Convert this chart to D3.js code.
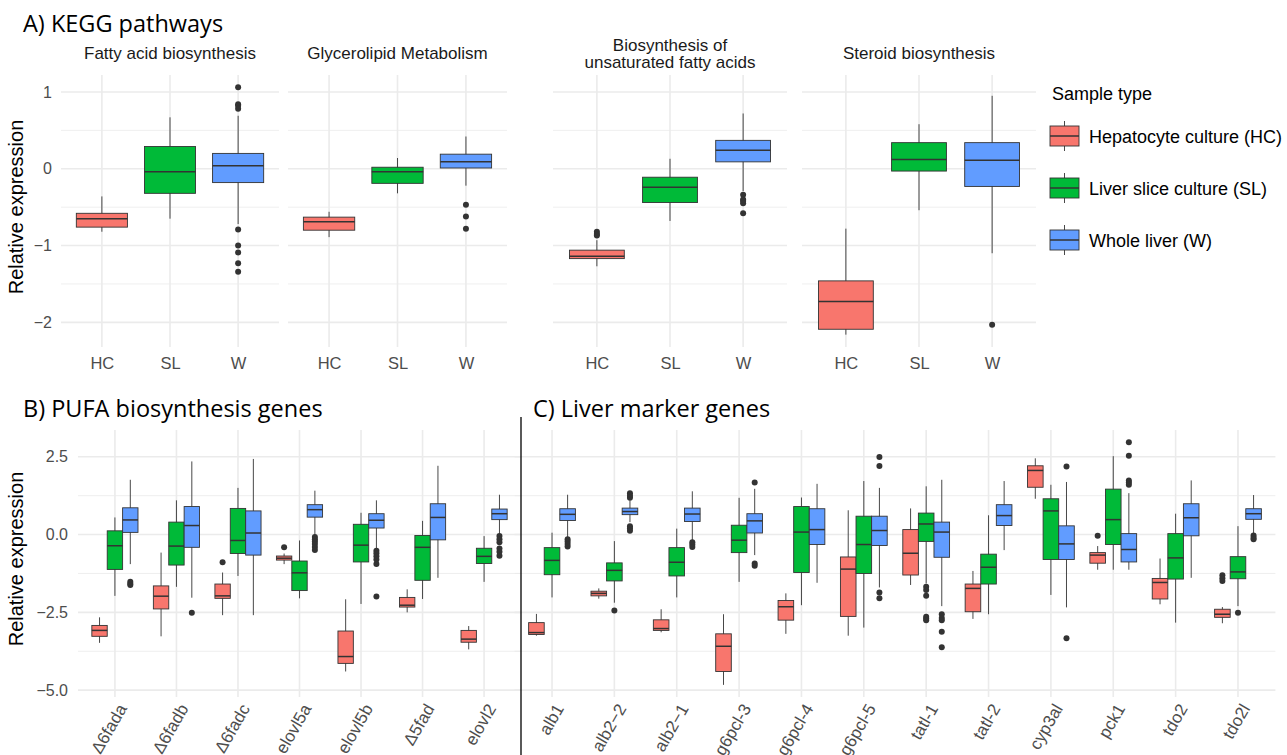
<!DOCTYPE html>
<html lang="en">
<head>
<meta charset="utf-8">
<title>Relative expression by sample type</title>
<script src="https://cdn.jsdelivr.net/npm/d3@7"></script>
<style>
  body { margin: 0; background: white; }
  svg text { font-family: "Liberation Sans", Arial, sans-serif; }
  .title { font-family: "Open Sans", sans-serif !important; font-size: 23.5px; fill: #000; }
</style>
</head>
<body>
<script>
// sample types
var groups = ["HC", "SL", "W"];
var groupLabels = ["Hepatocyte culture (HC)", "Liver slice culture (SL)", "Whole liver (W)"];
var groupColors = ["#F8766D", "#00BA38", "#619CFF"];

// A) KEGG pathways, each box = [lower whisker, Q1, median, Q3, upper whisker]
var pathways = ["Fatty acid biosynthesis", "Glycerolipid Metabolism",
                "Biosynthesis of\nunsaturated fatty acids", "Steroid biosynthesis"];
var keggStats = [
  [[-0.82, -0.76, -0.65, -0.58, -0.36], [-0.65, -0.32, -0.04, 0.29, 0.67], [-0.72, -0.18, 0.04, 0.20, 0.69]],
  [[-0.89, -0.80, -0.69, -0.63, -0.56], [-0.32, -0.19, -0.04, 0.02, 0.14], [-0.22, 0.01, 0.09, 0.19, 0.42]],
  [[-1.27, -1.17, -1.14, -1.06, -0.93], [-0.68, -0.44, -0.24, -0.11, 0.13], [-0.29, 0.09, 0.24, 0.37, 0.72]],
  [[-2.16, -2.09, -1.73, -1.46, -0.78], [-0.54, -0.03, 0.12, 0.34, 0.58], [-1.10, -0.23, 0.11, 0.34, 0.95]]
];
var keggOutliers = [
  [[], [], [1.06, 0.84, 0.82, 0.78, -0.79, -1.0, -1.09, -1.23, -1.34]],
  [[], [], [-0.47, -0.62, -0.78]],
  [[-0.82, -0.85, -0.87], [], [-0.34, -0.40, -0.42, -0.45, -0.58]],
  [[], [], [-2.03]]
];
var keggTicks = [1, 0, -1, -2];

// B) PUFA biosynthesis genes
var pufaGenes = ["Δ6fada", "Δ6fadb", "Δ6fadc", "elovl5a", "elovl5b", "Δ5fad", "elovl2"];
var pufaStats = [
  [[-3.48, -3.27, -3.08, -2.92, -2.66], [-1.97, -1.12, -0.36, 0.12, 0.55], [-0.95, 0.07, 0.47, 0.86, 1.76]],
  [[-3.27, -2.39, -1.98, -1.65, -0.58], [-1.68, -0.98, -0.37, 0.40, 1.10], [-2.03, -0.41, 0.29, 0.90, 2.35]],
  [[-2.59, -2.05, -1.97, -1.59, -1.22], [-1.33, -0.61, -0.19, 0.84, 1.50], [-2.59, -0.66, 0.05, 0.76, 2.43]],
  [[-0.95, -0.82, -0.76, -0.69, -0.61], [-2.05, -1.80, -1.23, -0.85, -0.19], [-0.04, 0.56, 0.80, 0.96, 1.41]],
  [[-4.40, -4.14, -3.92, -3.10, -2.08], [-2.23, -0.88, -0.34, 0.33, 0.70], [-0.45, 0.21, 0.46, 0.67, 1.10]],
  [[-2.50, -2.33, -2.27, -2.02, -1.76], [-2.07, -1.47, -0.41, -0.03, 0.44], [-1.39, -0.17, 0.55, 0.99, 2.21]],
  [[-3.69, -3.46, -3.36, -3.08, -2.94], [-1.52, -0.93, -0.70, -0.44, -0.05], [0.02, 0.48, 0.67, 0.82, 1.28]]
];
var pufaOutliers = [
  [[], [], [-1.52, -1.58, -1.62]],
  [[], [], [-2.51]],
  [[-0.89], [], []],
  [[-0.41], [], [-0.08, -0.15, -0.22, -0.30, -0.40, -0.50]],
  [[], [], [-0.52, -0.60, -0.70, -0.80, -0.95, -1.99]],
  [[], [], []],
  [[], [], [-0.05, -0.15, -0.25, -0.45, -0.55, -0.68]]
];

// C) Liver marker genes
var liverGenes = ["alb1", "alb2−2", "alb2−1", "g6pcl-3", "g6pcl-4", "g6pcl-5",
                  "tatl-1", "tatl-2", "cyp3al", "pck1", "tdo2", "tdo2l"];
var liverStats = [
  [[-3.25, -3.21, -3.15, -2.83, -2.55], [-2.02, -1.29, -0.83, -0.42, 0.06], [-0.10, 0.45, 0.65, 0.83, 1.28]],
  [[-2.06, -1.97, -1.89, -1.82, -1.73], [-2.19, -1.49, -1.15, -0.91, -0.21], [0.40, 0.64, 0.74, 0.85, 1.10]],
  [[-3.14, -3.08, -3.02, -2.74, -2.40], [-2.02, -1.33, -0.89, -0.42, 0.19], [-0.20, 0.42, 0.66, 0.85, 1.39]],
  [[-4.83, -4.40, -3.59, -3.19, -2.56], [-1.52, -0.58, -0.18, 0.30, 1.18], [-0.66, 0.05, 0.44, 0.67, 1.47]],
  [[-3.19, -2.75, -2.32, -2.12, -1.89], [-2.27, -1.22, 0.08, 0.90, 1.19], [-1.55, -0.32, 0.16, 0.83, 1.63]],
  [[-3.25, -2.63, -1.11, -0.72, 0.78], [-2.99, -1.25, -0.32, 0.59, 1.72], [-1.70, -0.35, 0.13, 0.59, 1.50]],
  [[-1.62, -1.30, -0.60, 0.16, 0.84], [-1.57, -0.22, 0.34, 0.69, 1.55], [-2.30, -0.73, 0.08, 0.40, 1.76]],
  [[-2.71, -2.48, -1.73, -1.59, -1.17], [-2.56, -1.59, -1.05, -0.63, 0.62], [-0.50, 0.29, 0.61, 0.96, 1.72]],
  [[1.15, 1.52, 2.06, 2.21, 2.45], [-1.94, -0.80, 0.76, 1.15, 1.60], [-2.34, -0.80, -0.30, 0.28, 1.69]],
  [[-1.13, -0.92, -0.66, -0.58, -0.37], [-1.13, -0.32, 0.48, 1.46, 2.52], [-1.13, -0.88, -0.48, 0.03, 1.33]],
  [[-2.24, -2.07, -1.54, -1.41, -0.77], [-2.83, -1.43, -0.75, 0.03, 0.67], [-1.39, -0.04, 0.54, 0.99, 1.74]],
  [[-2.85, -2.66, -2.56, -2.40, -2.33], [-2.30, -1.42, -1.20, -0.71, 0.27], [0.03, 0.49, 0.67, 0.83, 1.27]]
];
var liverOutliers = [
  [[], [], [-0.15, -0.22, -0.30, -0.38]],
  [[], [-2.44], [1.33, 1.25, 1.18, 0.27, 0.20, 0.12]],
  [[], [], [-0.25, -0.32, -0.40]],
  [[], [], [1.67, -0.93, -1.00]],
  [[], [], []],
  [[], [], [2.49, 2.20, -1.86, -2.05]],
  [[], [-1.68, -1.78, -1.97, -2.64, -2.70, -2.75], [-2.56, -2.68, -2.75, -3.12, -3.62]],
  [[], [], []],
  [[], [], [2.19, -3.33]],
  [[-0.04], [], [2.97, 2.53, 1.74, 1.67, 1.60]],
  [[], [], []],
  [[-1.31, -1.40, -1.49], [-2.51], [-0.03, -0.10, -0.15]]
];
var geneTicks = [2.5, 0, -2.5, -5];

// layout
var width = 1287, height = 755;
var facetX = [[61, 279], [288, 507], [553, 787], [802, 1036]];
var topY = [75, 347];
var bottomY = [430, 697];
var pufaX = [78, 521];
var liverX = [514.6, 1275.4];
var gridColor = "#ebebeb";
var lineColor = "#333333";

var svg = d3.select("body").append("svg")
            .attr("width", width)
            .attr("height", height);

// ggplot style: data range plus 5% on both ends
function expand(statsList, outlierList) {
  var vals = [];
  statsList.forEach(function(stats) {
    stats.forEach(function(p) { p.forEach(function(s) { vals = vals.concat(s); }); });
  });
  outlierList.forEach(function(outs) {
    outs.forEach(function(p) { p.forEach(function(s) { vals = vals.concat(s); }); });
  });
  var e = d3.extent(vals), pad = (e[1] - e[0]) * 0.05;
  return [e[0] - pad, e[1] + pad];
}

function minorTicks(ticks, domain) {
  var step = ticks[0] - ticks[1], out = [];
  for (var i = -1; i < ticks.length; i++) {
    var m = ticks[0] - step * (i + 0.5);
    if (m > domain[0] && m < domain[1]) out.push(m);
  }
  return out;
}

function grid(g, xr, yr, y, ticks, xs) {
  g.selectAll(".minor").data(minorTicks(ticks, y.domain())).enter().append("line")
   .attr("x1", xr[0]).attr("x2", xr[1])
   .attr("y1", y).attr("y2", y)
   .attr("stroke", gridColor).attr("stroke-width", 0.8);
  g.selectAll(".major").data(ticks).enter().append("line")
   .attr("x1", xr[0]).attr("x2", xr[1])
   .attr("y1", y).attr("y2", y)
   .attr("stroke", gridColor).attr("stroke-width", 1.6);
  g.selectAll(".vert").data(xs).enter().append("line")
   .attr("x1", function(d) { return d; }).attr("x2", function(d) { return d; })
   .attr("y1", yr[0]).attr("y2", yr[1])
   .attr("stroke", gridColor).attr("stroke-width", 1.6);
}

function drawBox(g, cx, w, s, outs, y, color) {
  g.append("line")
   .attr("x1", cx).attr("x2", cx)
   .attr("y1", y(s[0])).attr("y2", y(s[4]))
   .attr("stroke", lineColor).attr("stroke-width", 0.9);
  g.append("rect")
   .attr("x", cx - w / 2).attr("width", w)
   .attr("y", y(s[3])).attr("height", y(s[1]) - y(s[3]))
   .attr("fill", color)
   .attr("stroke", lineColor).attr("stroke-width", 0.9);
  g.append("line")
   .attr("x1", cx - w / 2).attr("x2", cx + w / 2)
   .attr("y1", y(s[2])).attr("y2", y(s[2]))
   .attr("stroke", lineColor).attr("stroke-width", 1.5);
  g.selectAll(null).data(outs).enter().append("circle")
   .attr("cx", cx).attr("cy", y)
   .attr("r", 3)
   .attr("fill", lineColor);
}

function yAxis(g, x0, pad, y, ticks, fmt) {
  g.append("g")
   .attr("transform", "translate(" + x0 + ",0)")
   .call(d3.axisLeft(y).tickValues(ticks).tickSize(0).tickPadding(pad).tickFormat(fmt))
   .call(function(a) {
     a.select(".domain").remove();
     a.selectAll("text").attr("font-size", 16).attr("fill", "#4d4d4d")
      .attr("font-family", "Liberation Sans, Arial, sans-serif");
   });
}

function yTitle(cy) {
  svg.append("text")
     .attr("transform", "translate(23," + cy + ") rotate(-90)")
     .attr("text-anchor", "middle")
     .attr("font-size", 20)
     .attr("fill", "#000")
     .text("Relative expression");
}

// ---- A) KEGG pathways
var yTop = d3.scaleLinear().domain(expand([keggStats], [keggOutliers])).range([topY[1], topY[0]]);

pathways.forEach(function(name, i) {
  var x = d3.scalePoint().domain(groups).range(facetX[i]).padding(0.6);
  var g = svg.append("g").attr("class", "facet");
  grid(g, facetX[i], topY, yTop, keggTicks, groups.map(function(d) { return x(d); }));
  keggStats[i].forEach(function(s, k) {
    drawBox(g, x(groups[k]), x.step() * 0.75, s, keggOutliers[i][k], yTop, groupColors[k]);
  });

  g.append("g")
   .attr("transform", "translate(0," + topY[1] + ")")
   .call(d3.axisBottom(x).tickSize(0).tickPadding(10.5))
   .call(function(a) {
     a.select(".domain").remove();
     a.selectAll("text").attr("font-size", 16.5).attr("fill", "#4d4d4d")
      .attr("font-family", "Liberation Sans, Arial, sans-serif");
   });

  var lines = name.split("\n");
  g.append("text")
   .attr("text-anchor", "middle")
   .attr("font-size", 17)
   .attr("fill", "#1a1a1a")
   .selectAll("tspan").data(lines).enter().append("tspan")
   .attr("x", (facetX[i][0] + facetX[i][1]) / 2)
   .attr("y", function(d, j) { return 59 - (lines.length - 1) * 8.5 + j * 17; })
   .text(function(d) { return d; });
});

yAxis(svg, facetX[0][0], 9, yTop, keggTicks, d3.format("d"));
yTitle(207);

svg.append("text").attr("class", "title")
   .attr("x", 23).attr("y", 32)
   .text("A) KEGG pathways");

// legend
var legend = svg.append("g");
legend.append("text")
      .attr("x", 1052).attr("y", 100)
      .attr("font-size", 18).attr("fill", "#000")
      .text("Sample type");
groupLabels.forEach(function(label, k) {
  var cy = 136 + k * 52;
  legend.append("line")
        .attr("x1", 1064.5).attr("x2", 1064.5)
        .attr("y1", cy - 15).attr("y2", cy + 15)
        .attr("stroke", lineColor).attr("stroke-width", 0.9);
  legend.append("rect")
        .attr("x", 1050).attr("y", cy - 10)
        .attr("width", 29).attr("height", 20)
        .attr("fill", groupColors[k])
        .attr("stroke", lineColor).attr("stroke-width", 0.9);
  legend.append("line")
        .attr("x1", 1050).attr("x2", 1079)
        .attr("y1", cy).attr("y2", cy)
        .attr("stroke", lineColor).attr("stroke-width", 1.5);
  legend.append("text")
        .attr("x", 1089).attr("y", cy + 6.5)
        .attr("font-size", 18).attr("fill", "#000")
        .text(label);
});

// ---- B) and C) gene panels, one shared y scale
var yBottom = d3.scaleLinear()
                .domain(expand([pufaStats, liverStats], [pufaOutliers, liverOutliers]))
                .range([bottomY[1], bottomY[0]]);

function genePanel(genes, stats, outliers, xr) {
  var x = d3.scalePoint().domain(genes).range(xr).padding(0.6);
  var g = svg.append("g");
  grid(g, xr, bottomY, yBottom, geneTicks, genes.map(function(d) { return x(d); }));
  var w = x.step() * 0.25;
  stats.forEach(function(gs, i) {
    gs.forEach(function(s, k) {
      drawBox(g, x(genes[i]) + (k - 1) * w, w, s, outliers[i][k], yBottom, groupColors[k]);
    });
  });
  g.append("g")
   .attr("transform", "translate(0," + bottomY[1] + ")")
   .call(d3.axisBottom(x).tickSize(0).tickPadding(0))
   .call(function(a) {
     a.select(".domain").remove();
     a.selectAll("text")
      .attr("y", 0).attr("dy", "0.75em")
      .attr("text-anchor", "end")
      .attr("transform", "translate(1,5) rotate(-60)")
      .attr("font-size", 17).attr("fill", "#4d4d4d")
      .attr("font-family", "Liberation Sans, Arial, sans-serif");
   });
}

genePanel(pufaGenes, pufaStats, pufaOutliers, pufaX);
genePanel(liverGenes, liverStats, liverOutliers, liverX);

yAxis(svg, pufaX[0], 10, yBottom, geneTicks, d3.format(".1f"));
yTitle(559);

svg.append("line")
   .attr("x1", 521).attr("x2", 521)
   .attr("y1", 417).attr("y2", height)
   .attr("stroke", "#000").attr("stroke-width", 1.3);

svg.append("text").attr("class", "title")
   .attr("x", 23).attr("y", 417)
   .text("B) PUFA biosynthesis genes");
svg.append("text").attr("class", "title")
   .attr("x", 533).attr("y", 417)
   .text("C) Liver marker genes");
</script>
</body>
</html>
